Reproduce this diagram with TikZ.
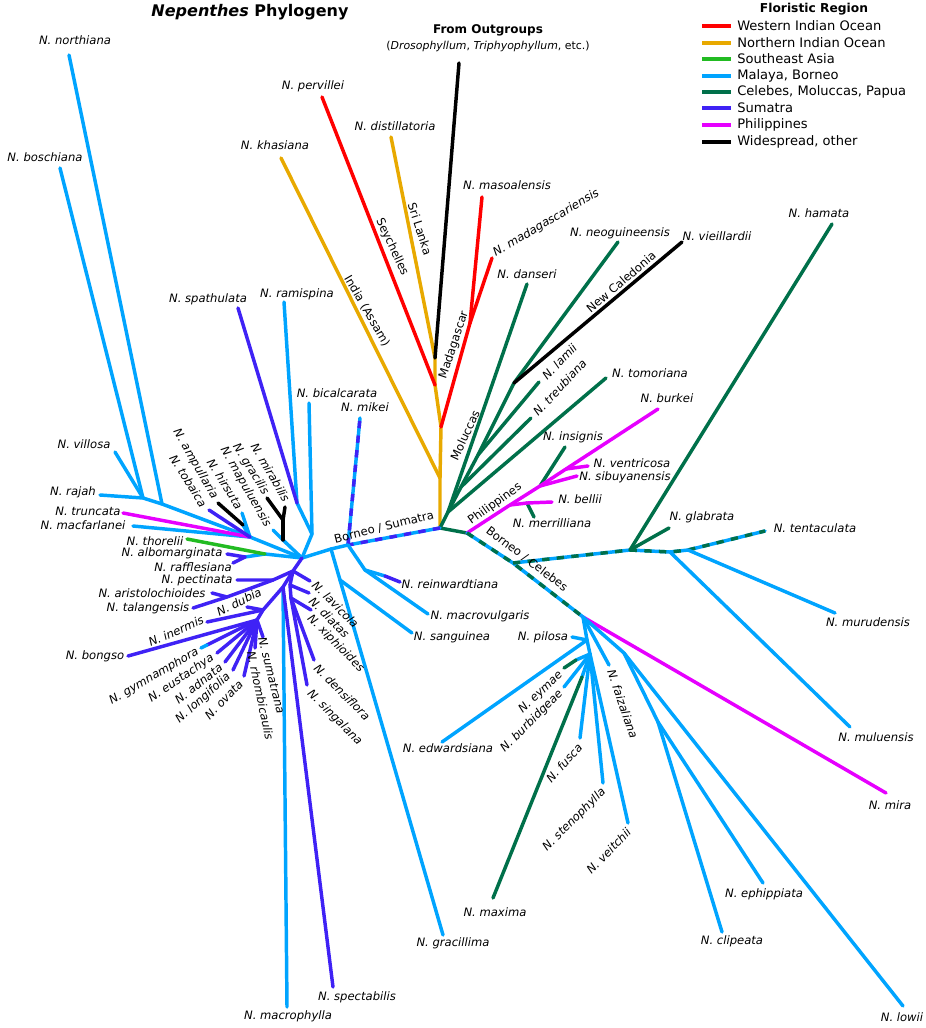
\documentclass[tikz,border=0pt]{standalone}
\usepackage{fontspec}
\setmainfont{DejaVu Sans}
\definecolor{cRed}{RGB}{255,0,0}
\definecolor{cOra}{RGB}{232,169,0}
\definecolor{cSea}{RGB}{34,187,34}
\definecolor{cBlu}{RGB}{0,164,255}
\definecolor{cDkg}{RGB}{0,112,74}
\definecolor{cPur}{RGB}{63,34,245}
\definecolor{cMag}{RGB}{230,0,255}
\tikzset{
  br/.style={line width=2.6pt, line cap=round, line join=round},
  lR/.style={br, draw=cRed}, lO/.style={br, draw=cOra}, lS/.style={br, draw=cSea},
  lB/.style={br, draw=cBlu}, lG/.style={br, draw=cDkg}, lP/.style={br, draw=cPur},
  lM/.style={br, draw=cMag}, lK/.style={br, draw=black},
  dsh/.style={line cap=butt, dash pattern=on 5.5pt off 5.5pt},
  lab/.style={font=\fontsize{8.7}{10}\selectfont\itshape, inner sep=0pt},
  reg/.style={font=\fontsize{8.7}{10}\selectfont, inner sep=0pt},
  legt/.style={font=\fontsize{9.8}{11}\selectfont, inner sep=0pt, anchor=west},
  legl/.style={line width=2.6pt}
}
\begin{document}
\begin{tikzpicture}[x=0.75pt,y=-0.75pt]
\path[use as bounding box] (0,0) rectangle (925,1028);
% ---------- coordinates ----------
\coordinate (root) at (440,528);
\coordinate (o1) at (440,478); \coordinate (o2) at (441,427);
\coordinate (o3) at (435,385); \coordinate (o4) at (435,358);
\coordinate (tOut) at (459,63); \coordinate (tDist) at (391,137);
\coordinate (tPerv) at (322,97); \coordinate (tKhas) at (281,158);
\coordinate (mad) at (470,323); \coordinate (tMaso) at (482,197); \coordinate (tMada) at (492,258);
% moluccas
\coordinate (m1) at (448,512); \coordinate (m2) at (461,487);
\coordinate (m3) at (478,455); \coordinate (m4) at (514,383);
\coordinate (tDans) at (527,284); \coordinate (tTomo) at (606,378);
\coordinate (tTreu) at (531,418); \coordinate (tLami) at (539,382);
\coordinate (tNeog) at (618,242); \coordinate (tViei) at (682,242);
% philippines
\coordinate (p0) at (467,533); \coordinate (p1) at (510,505); \coordinate (p1m) at (527,503);
\coordinate (p2) at (540,486); \coordinate (p3) at (566,469);
\coordinate (tBurk) at (658,409); \coordinate (tBell) at (552,502); \coordinate (tMerr) at (534,517);
\coordinate (tSibu) at (577,476); \coordinate (tInsi) at (565,447); \coordinate (tVent) at (588,466);
% borneo / celebes
\coordinate (bc1) at (513,563); \coordinate (bc2) at (583,617);
\coordinate (g0) at (630,550); \coordinate (g1) at (670,552); \coordinate (g2) at (688,550);
\coordinate (tHama) at (832,224); \coordinate (tGlab) at (669,528);
\coordinate (tMulu) at (850,727); \coordinate (tTent) at (765,531); \coordinate (tMuru) at (835,613);
\coordinate (tMira) at (886,793);
% pilosa group
\coordinate (q1) at (587,640); \coordinate (q2) at (590,654);
\coordinate (q3) at (624,653); \coordinate (q4) at (658,722);
\coordinate (qm) at (582,677); \coordinate (qe) at (576,660);
\coordinate (tPilo) at (572,637); \coordinate (tEdwa) at (442,742);
\coordinate (tEyma) at (564,668); \coordinate (tBurb) at (564,687);
\coordinate (tMaxi) at (493,898); \coordinate (tFusc) at (580,738);
\coordinate (tSten) at (603,783); \coordinate (tVeit) at (628,823);
\coordinate (tFaiz) at (609,665); \coordinate (tLowi) at (903,1006);
\coordinate (tEphi) at (763,883); \coordinate (tClip) at (722,932);
% left side
\coordinate (bs1) at (348,545); \coordinate (bs2) at (331,549); \coordinate (hub) at (302,558);
\coordinate (tMike) at (360,418); \coordinate (r1) at (365,570); \coordinate (rr) at (385,576);
\coordinate (tRein) at (400,582); \coordinate (tMacv) at (428,614);
\coordinate (s1g) at (340,580); \coordinate (tSang) at (412,633); \coordinate (tGrcl) at (443,935);
\coordinate (u1) at (312,534); \coordinate (u2) at (297,503);
\coordinate (tBica) at (309,403); \coordinate (tSpat) at (238,308); \coordinate (tRami) at (284,302);
\coordinate (L1) at (283,540); \coordinate (tMapu) at (273,530);
\coordinate (y1) at (283,520); \coordinate (tGrci) at (267,498); \coordinate (tMirb) at (285,507);
\coordinate (f1) at (250,537); \coordinate (a1) at (243,525);
\coordinate (tTrun) at (123,513); \coordinate (tMacf) at (133,526);
\coordinate (tHirs) at (242,513); \coordinate (tAmpu) at (218,503); \coordinate (tToba) at (209,510);
\coordinate (n1) at (162,504); \coordinate (v1) at (143,498);
\coordinate (tRaja) at (100,495); \coordinate (tNort) at (69,55);
\coordinate (tBosc) at (60,168); \coordinate (tVill) at (115,452);
\coordinate (t1) at (265,554); \coordinate (a2) at (245,557);
\coordinate (tThor) at (187,539); \coordinate (tAlbo) at (227,554); \coordinate (tRaff) at (233,563);
% sumatra
\coordinate (s1) at (293,571); \coordinate (sp1) at (273,580); \coordinate (ar1) at (227,597);
\coordinate (tPect) at (237,580); \coordinate (tTala) at (193,608); \coordinate (tAris) at (212,593);
\coordinate (sd1) at (283,587); \coordinate (sd2) at (263,610); \coordinate (sd3) at (257,620);
\coordinate (tDubi) at (247,607); \coordinate (tIner) at (207,622); \coordinate (tBong) at (128,656);
\coordinate (gb) at (207,645); \coordinate (tGymn) at (201,648);
\coordinate (tEust) at (217,653); \coordinate (tAdna) at (225,662);
\coordinate (tLong) at (233,670); \coordinate (tOvat) at (244,676);
\coordinate (tSuma) at (263,637); \coordinate (tRhom) at (255,648);
\coordinate (tMacp) at (287,1007); \coordinate (tSpec) at (333,987);
\coordinate (sr1) at (290,585); \coordinate (sr2) at (291,598);
\coordinate (tLavi) at (310,581); \coordinate (tDiat) at (309,593); \coordinate (tXiph) at (311,610);
\coordinate (tDens) at (314,660); \coordinate (tSing) at (307,685);
% ---------- branches ----------
% outgroup / Indian Ocean
\draw[lO] (root) -- (o1) -- (o2) -- (o3) -- (o4);
\draw[lO] (o4) -- (tDist); \draw[lO] (o1) -- (tKhas);
\draw[lK] (o4) -- (tOut);
\draw[lR] (o3) -- (tPerv);
\draw[lR] (o2) -- (mad); \draw[lR] (mad) -- (tMaso); \draw[lR] (mad) -- (tMada);
% Moluccas
\draw[lG] (root) -- (m1) -- (m2) -- (m3) -- (m4);
\draw[lG] (m1) -- (tDans); \draw[lG] (m1) -- (tTomo);
\draw[lG] (m2) -- (tTreu); \draw[lG] (m3) -- (tLami);
\draw[lG] (m4) -- (tNeog); \draw[lK] (m4) -- (tViei);
% Philippines
\draw[lG] (root) -- (p0);
\draw[lG] (p1m) -- (tMerr); \draw[lG] (p2) -- (tInsi);
\draw[lM] (p0) -- (p1) -- (p2) -- (p3) -- (tBurk);
\draw[lM] (p1) -- (p1m) -- (tBell);
\draw[lM] (p2) -- (tSibu); \draw[lM] (p3) -- (tVent);
% Borneo / Celebes
\draw[lB] (p0) -- (bc1) -- (bc2); \draw[lG,dsh] (p0) -- (bc1) -- (bc2);
\draw[lB] (bc1) -- (g0) -- (g1) -- (g2) -- (tTent);
\draw[lG,dsh] (bc1) -- (g0) -- (g1) -- (g2) -- (tTent);
\draw[lG] (g0) -- (tHama); \draw[lG] (g0) -- (tGlab);
\draw[lB] (g1) -- (tMulu); \draw[lB] (g2) -- (tMuru);
\draw[lM] (bc2) -- (tMira);
\draw[lB] (bc2) -- (q1); \draw[lB] (q1) -- (tPilo); \draw[lB] (q1) -- (tEdwa);
\draw[lB] (q1) -- (q2); \draw[lB] (q2) -- (qe); \draw[lG] (qe) -- (tEyma);
\draw[lB] (q2) -- (tBurb); \draw[lB] (q2) -- (qm); \draw[lG] (qm) -- (tMaxi);
\draw[lB] (q2) -- (tFusc); \draw[lB] (q2) -- (tSten); \draw[lB] (q2) -- (tVeit);
\draw[lB] (bc2) -- (tFaiz);
\draw[lB] (bc2) -- (q3) -- (tLowi); \draw[lB] (q3) -- (q4);
\draw[lB] (q4) -- (tEphi); \draw[lB] (q4) -- (tClip);
% Borneo / Sumatra
\draw[lB] (root) -- (bs1); \draw[lP,dsh] (root) -- (bs1);
\draw[lB] (bs1) -- (tMike); \draw[lP,dsh] (bs1) -- (tMike);
\draw[lB] (bs1) -- (bs2) -- (hub);
\draw[lB] (bs1) -- (r1) -- (rr); \draw[lP] (rr) -- (tRein); \draw[lB] (r1) -- (tMacv);
\draw[lB] (bs2) -- (s1g); \draw[lB] (s1g) -- (tSang); \draw[lB] (s1g) -- (tGrcl);
% upper cluster
\draw[lB] (hub) -- (u1) -- (tBica); \draw[lB] (u1) -- (u2) -- (tRami);
\draw[lP] (u2) -- (tSpat);
\draw[lB] (hub) -- (L1) -- (tMapu);
\draw[lK] (L1) -- (y1); \draw[lK] (y1) -- (tGrci); \draw[lK] (y1) -- (tMirb);
% upper-left fan
\draw[lB] (hub) -- (f1);
\draw[lB] (f1) -- (n1) -- (v1) -- (tRaja);
\draw[lB] (n1) -- (tNort); \draw[lB] (v1) -- (tBosc); \draw[lB] (v1) -- (tVill);
\draw[lB] (f1) -- (tMacf);
\draw[lM] (f1) -- (tTrun);
\draw[lB] (f1) -- (tHirs);
\draw[lB] (f1) -- (a1); \draw[lK] (a1) -- (tAmpu);
\draw[lP] (f1) -- (tToba);
\draw[lB] (hub) -- (t1) -- (a2);
\draw[lS] (t1) -- (tThor);
\draw[lP] (a2) -- (tAlbo); \draw[lP] (a2) -- (tRaff);
% Sumatra
\draw[lB] (sd1) -- (tMacp);
\draw[lP] (sd1) -- (tSpec);
\draw[lP] (hub) -- (s1) -- (sp1) -- (tPect);
\draw[lP] (sp1) -- (ar1) -- (tTala); \draw[lP] (ar1) -- (tAris);
\draw[lP] (s1) -- (sd1) -- (sd2) -- (sd3);
\draw[lP] (sd2) -- (tDubi); \draw[lP] (sd2) -- (tIner);
\draw[lP] (sd3) -- (tBong); \draw[lP] (sd3) -- (gb); \draw[lB] (gb) -- (tGymn);
\draw[lP] (sd3) -- (tEust); \draw[lP] (sd3) -- (tAdna);
\draw[lP] (sd3) -- (tLong); \draw[lP] (sd3) -- (tOvat);
\draw[lP] (sd3) -- (tSuma); \draw[lP] (sd3) -- (tRhom);
\draw[lP] (s1) -- (tLavi);
\draw[lP] (s1) -- (sr1) -- (sr2);
\draw[lP] (sr1) -- (tDiat); \draw[lP] (sr2) -- (tXiph);
\draw[lP] (sr2) -- (tDens); \draw[lP] (sr2) -- (tSing);
% ---------- titles ----------
\node[font=\fontsize{12}{14}\selectfont\bfseries, inner sep=0pt] (title) at (250,12) {\textit{Nepenthes} Phylogeny};
\node[font=\fontsize{9}{11}\selectfont\bfseries, inner sep=0pt] (fromOut) at (488,30) {From Outgroups};
\node[font=\fontsize{8.2}{10}\selectfont, inner sep=0pt] (fromOut2) at (488,46) {(\textit{Drosophyllum}, \textit{Triphyophyllum}, etc.)};
% ---------- legend ----------
\node[font=\fontsize{9.2}{11}\selectfont\bfseries, inner sep=0pt] (legT) at (814,9) {Floristic Region};
\foreach \yy/\cc/\tt [count=\i] in {26/cRed/Western Indian Ocean, 43/cOra/Northern Indian Ocean, 59/cSea/Southeast Asia, 76/cBlu/{Malaya, Borneo}, 92/cDkg/{Celebes, Moluccas, Papua}, 108/cPur/Sumatra, 125/cMag/Philippines, 142/black/{Widespread, other}}{
  \coordinate (legA\i) at (702,\yy); \coordinate (legB\i) at (731,\yy);
  \draw[legl, draw=\cc] (legA\i) -- (legB\i);
  \node[legt] (legL\i) at (737,\yy) {\tt};
}
% ---------- species labels ----------
\node[lab] (lNort) at (75,40) {N. northiana};
\node[lab] (lBosc) at (45,157) {N. boschiana};
\node[lab] (lKhas) at (275,145) {N. khasiana};
\node[lab] (lPerv) at (313,86) {N. pervillei};
\node[lab] (lDist) at (395,126) {N. distillatoria};
\node[lab] (lMaso) at (507,185) {N. masoalensis};
\node[lab, rotate=30.6, anchor=west] (lMada) at (494,254) {N. madagascariensis};
\node[lab] (lDans) at (527,274) {N. danseri};
\node[lab] (lNeog) at (620,233) {N. neoguineensis};
\node[lab] (lViei) at (717,236) {N. vieillardii};
\node[lab] (lHama) at (819,213) {N. hamata};
\node[lab, rotate=46, anchor=west] (lLami) at (544,378) {N. lamii};
\node[lab, rotate=47, anchor=west] (lTreu) at (535,414) {N. treubiana};
\node[lab] (lTomo) at (650,373) {N. tomoriana};
\node[lab] (lBurk) at (667,398) {N. burkei};
\node[lab] (lInsi) at (573,437) {N. insignis};
\node[lab] (lVent) at (632,463) {N. ventricosa};
\node[lab] (lSibu) at (625,477) {N. sibuyanensis};
\node[lab] (lBell) at (580,499) {N. bellii};
\node[lab] (lMerr) at (552,523) {N. merrilliana};
\node[lab] (lGlab) at (702,517) {N. glabrata};
\node[lab] (lTent) at (815,528) {N. tentaculata};
\node[lab] (lMuru) at (868,622) {N. murudensis};
\node[lab] (lMulu) at (876,737) {N. muluensis};
\node[lab] (lMira) at (890,805) {N. mira};
\node[lab] (lLowi) at (902,1017) {N. lowii};
\node[lab] (lClip) at (732,941) {N. clipeata};
\node[lab] (lEphi) at (764,894) {N. ephippiata};
\node[lab, rotate=-71, anchor=west] (lFaiz) at (611,670) {N. faizaliana};
\node[lab, rotate=46, anchor=east] (lVeit) at (629,830) {N. veitchii};
\node[lab, rotate=45, anchor=east] (lSten) at (604,790) {N. stenophylla};
\node[lab, rotate=48, anchor=east] (lFusc) at (580,745) {N. fusca};
\node[lab, rotate=45, anchor=east] (lBurb) at (561,692) {N. burbidgeae};
\node[lab, rotate=44, anchor=east] (lEyma) at (561,673) {N. eymae};
\node[lab] (lEdwa) at (448,748) {N. edwardsiana};
\node[lab] (lPilo) at (543,637) {N. pilosa};
\node[lab] (lMaxi) at (495,912) {N. maxima};
\node[lab] (lGrcl) at (453,943) {N. gracillima};
\node[lab] (lSang) at (452,637) {N. sanguinea};
\node[lab] (lMacv) at (480,616) {N. macrovulgaris};
\node[lab] (lRein) at (450,584) {N. reinwardtiana};
\node[lab] (lSpec) at (357,997) {N. spectabilis};
\node[lab] (lMacp) at (288,1016) {N. macrophylla};
\node[lab, rotate=-45, anchor=west] (lSing) at (309,692) {N. singalana};
\node[lab, rotate=-45, anchor=west] (lDens) at (316,666) {N. densiflora};
\node[lab, rotate=-45, anchor=west] (lXiph) at (309,617) {N. xiphioides};
\node[lab, rotate=-45, anchor=west] (lDiat) at (311,599) {N. diatas};
\node[lab, rotate=-45, anchor=west] (lLavi) at (314,583) {N. lavicola};
\node[lab, rotate=-76, anchor=west] (lSuma) at (262,637) {N. sumatrana};
\node[lab, rotate=-78, anchor=west] (lRhom) at (251,651) {N. rhombicaulis};
\node[lab, rotate=46, anchor=east] (lOvat) at (241,682) {N. ovata};
\node[lab, rotate=42, anchor=east] (lLong) at (229,675) {N. longifolia};
\node[lab, rotate=38, anchor=east] (lAdna) at (221,666) {N. adnata};
\node[lab, rotate=34, anchor=east] (lEust) at (213,657) {N. eustachya};
\node[lab, rotate=30, anchor=east] (lGymn) at (198,651) {N. gymnamphora};
\node[lab] (lBong) at (95,656) {N. bongso};
\node[lab, rotate=24] (lIner) at (176,631) {N. inermis};
\node[lab, rotate=27] (lDubi) at (239,602) {N. dubia};
\node[lab] (lTala) at (148,608) {N. talangensis};
\node[lab] (lAris) at (152,593) {N. aristolochioides};
\node[lab] (lPect) at (197,580) {N. pectinata};
\node[lab] (lRaff) at (193,567) {N. rafflesiana};
\node[lab] (lAlbo) at (172,553) {N. albomarginata};
\node[lab] (lThor) at (155,541) {N. thorelii};
\node[lab] (lMacf) at (83,525) {N. macfarlanei};
\node[lab] (lTrun) at (88,511) {N. truncata};
\node[lab] (lRaja) at (73,492) {N. rajah};
\node[lab] (lVill) at (84,444) {N. villosa};
\node[lab, rotate=-58, anchor=east] (lToba) at (204,506) {N. tobaica};
\node[lab, rotate=-60, anchor=east] (lAmpu) at (215,498) {N. ampullaria};
\node[lab, rotate=-58, anchor=east] (lHirs) at (240,508) {N. hirsuta};
\node[lab, rotate=-60, anchor=east] (lMapu) at (268,526) {N. mapuluensis};
\node[lab, rotate=-58, anchor=east] (lGrci) at (266,494) {N. gracilis};
\node[lab, rotate=-60, anchor=east] (lMirb) at (287,501) {N. mirabilis};
\node[lab] (lSpat) at (208,299) {N. spathulata};
\node[lab] (lRami) at (297,294) {N. ramispina};
\node[lab] (lBica) at (337,393) {N. bicalcarata};
\node[lab] (lMike) at (365,407) {N. mikei};
% ---------- region labels ----------
\node[reg, rotate=-65] (lSeyc) at (392,247) {Seychelles};
\node[reg, rotate=-72] (lSriL) at (420,229) {Sri Lanka};
\node[reg, rotate=-60] (lIndi) at (367,311) {India (Assam)};
\node[reg, rotate=71.5] (lMadg) at (454,345) {Madagascar};
\node[reg, rotate=40.5] (lNewC) at (621,282) {New Caledonia};
\node[reg, rotate=65] (lMolu) at (465,435) {Moluccas};
\node[reg, rotate=35.7] (lPhil) at (495,504) {Philippines};
\node[reg, rotate=-37] (lBoCe) at (527,559) {Borneo / Celebes};
\node[reg, rotate=14] (lBoSu) at (384,527) {Borneo / Sumatra};
\end{tikzpicture}
\end{document}
